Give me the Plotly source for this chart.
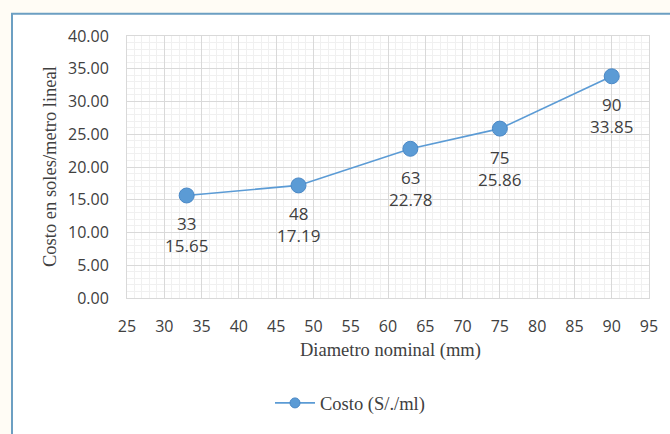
import plotly.graph_objects as go

# Nominal pipe diameter (mm) and cost per linear metre (S/.)
diametro = [33, 48, 63, 75, 90]
costo = [15.65, 17.19, 22.78, 25.86, 33.85]
serie = "Costo (S/./ml)"

x_ticks = list(range(25, 100, 5))
y_ticks = [0, 5, 10, 15, 20, 25, 30, 35, 40]
y_labels = [f"{v:.2f}" for v in y_ticks]

W, H = 670, 434
L, R, T, B = 127, 21, 36, 132
pw, ph = W - L - R, H - T - B

def px_x(p):
    return (p - L) / pw

def px_y(p):
    return (H - B - p) / ph

sans = "Open Sans, Lato, sans-serif"
serif = "Liberation Serif, Times New Roman, serif"
txt = "#404040"
blue = "#5B9BD5"
edge = "#4a88c6"

fig = go.Figure()
fig.add_trace(go.Scatter(
    x=diametro, y=costo, name=serie, showlegend=False,
    mode="lines+markers",
    line=dict(color=blue, width=1.6),
    marker=dict(size=15, color=blue, line=dict(color=edge, width=1)),
))
# legend entry with a smaller symbol
fig.add_trace(go.Scatter(
    x=[None], y=[None], name=serie, mode="lines+markers",
    line=dict(color=blue, width=1.6),
    marker=dict(size=10, color=blue, line=dict(color=edge, width=1)),
))

# data labels: "diameter<br>cost" beneath each point
annotations = [
    dict(x=d, y=c, xref="x", yref="y", text=f"{d}<br>{c:.2f}",
         showarrow=False, xanchor="center", yanchor="top", yshift=-15,
         font=dict(family=sans, size=17, color=txt))
    for d, c in zip(diametro, costo)
]
annotations += [
    dict(text="Diametro nominal (mm)", xref="paper", yref="paper",
         x=px_x(390), y=px_y(355), showarrow=False,
         xanchor="center", yanchor="middle",
         font=dict(family=serif, size=18.5, color=txt)),
    dict(text="Costo en soles/metro lineal", xref="paper", yref="paper",
         x=px_x(50), y=px_y(169), showarrow=False, textangle=-90,
         xanchor="center", yanchor="middle",
         font=dict(family=serif, size=18.5, color=txt)),
]

fig.update_layout(
    width=W, height=H,
    margin=dict(l=L, r=R, t=T, b=B),
    paper_bgcolor="#fffcf5",
    plot_bgcolor="white",
    showlegend=True,
    legend=dict(
        orientation="h", x=px_x(350), y=px_y(409),
        xanchor="center", yanchor="middle",
        font=dict(family=serif, size=18.5, color=txt),
        bgcolor="rgba(0,0,0,0)", itemwidth=40,
    ),
    shapes=[dict(
        type="rect", xref="paper", yref="paper", layer="below",
        x0=px_x(12), x1=px_x(690), y0=px_y(460), y1=px_y(13.5),
        line=dict(color="#6c9fc2", width=2), fillcolor="white",
    )],
    annotations=annotations,
)

fig.update_xaxes(
    range=[25, 95], tickvals=x_ticks, ticks="", ticklabelstandoff=14,
    tickfont=dict(family=sans, size=16, color=txt),
    showgrid=True, gridcolor="#d9d9d9", gridwidth=1,
    minor=dict(dtick=1, showgrid=True, gridcolor="#f0f0f0", gridwidth=1),
    showline=True, linecolor="#d9d9d9", mirror=True, zeroline=False,
)
fig.update_yaxes(
    range=[0, 40], tickvals=y_ticks, ticktext=y_labels, ticks="",
    ticklabelstandoff=14,
    tickfont=dict(family=sans, size=16, color=txt),
    showgrid=True, gridcolor="#d9d9d9", gridwidth=1,
    minor=dict(dtick=1, showgrid=True, gridcolor="#f0f0f0", gridwidth=1),
    showline=True, linecolor="#d9d9d9", mirror=True, zeroline=False,
)

fig.write_html("out.html")
